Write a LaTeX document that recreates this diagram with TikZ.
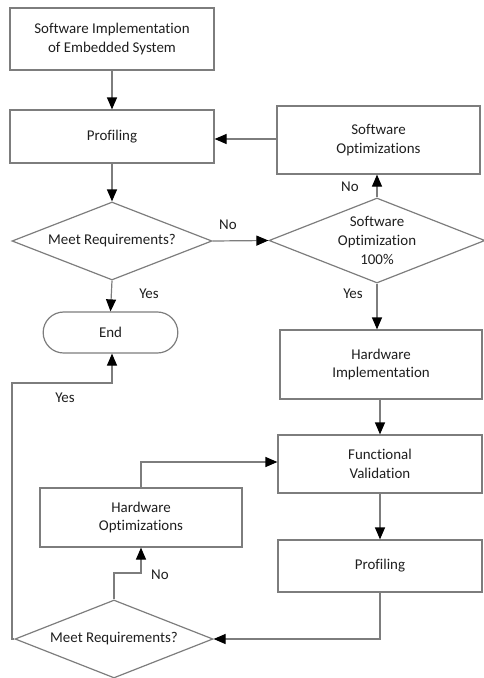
\documentclass[tikz,border=0pt]{standalone}
\usepackage{fontspec}
\setmainfont[Ligatures={NoCommon}]{Carlito}
\usetikzlibrary{arrows.meta,shapes.geometric,shapes.misc}
\definecolor{ln}{RGB}{125,125,125}
\definecolor{tx}{RGB}{30,30,30}
\begin{document}
\begin{tikzpicture}[x=0.75pt,y=-0.75pt,
  font=\fontsize{11.2}{14.2}\selectfont, text=tx,
  boxx/.style={draw=ln,line width=0.9pt,rectangle,align=center,inner sep=0pt},
  dia/.style={draw=ln,line width=0.9pt,diamond,aspect=2.5,align=center,inner sep=0pt},
  term/.style={draw=ln,line width=0.9pt,rounded rectangle,align=center,inner sep=0pt},
  arr/.style={draw=ln,line width=0.9pt,-{Triangle[length=9pt,width=7.5pt,color=black]}},
  lab/.style={inner sep=0pt}]
\useasboundingbox (0,0) rectangle (483,678);
\node[boxx,minimum width=153pt,minimum height=46.5pt] (b1) at (112,39) {Software Implementation\\of Embedded System};
\node[boxx,minimum width=153pt,minimum height=39.75pt] (p1) at (112,136.5) {Profiling};
\node[boxx,minimum width=152.25pt,minimum height=51pt] (so) at (378.5,140) {Software\\Optimizations};
\node[dia,minimum width=150pt,minimum height=58.5pt] (d1) at (112,241) {Meet Requirements?};
\node[dia,minimum width=162pt,minimum height=63.75pt] (d2) at (377,240.5) {Software\\Optimization\\100\%};
\node[term,minimum width=101pt,minimum height=30.75pt] (end) at (110.5,332.5) {End};
\node[boxx,minimum width=151.5pt,minimum height=51.75pt] (hi) at (381,364.5) {Hardware\\Implementation};
\node[boxx,minimum width=153pt,minimum height=43.5pt] (fv) at (380,464) {Functional\\Validation};
\node[boxx,minimum width=153pt,minimum height=39pt] (p2) at (380,566) {Profiling};
\node[boxx,minimum width=151.5pt,minimum height=44.25pt] (ho) at (141,517.5) {Hardware\\Optimizations};
\node[dia,minimum width=148.5pt,minimum height=58.5pt] (d3) at (114,639) {Meet Requirements?};

\coordinate (c1) at (12,639);
\coordinate (c2) at (12,383);
\coordinate (c3) at (112,383);
\coordinate (c4) at (114,573);
\coordinate (c5) at (141,573);
\coordinate (c6) at (141,462);

\path[arr] (b1.south) -- (p1.north);
\path[arr] (so.west |- 0,139) -- (p1.east |- 0,139);
\path[arr] (p1.south) -- (d1.north);
\path[arr] (d1.east) -- (d2.west);
\path[arr] (d2.north) -- (d2.north |- so.south);
\path[arr] (d1.south) -- (end.north);
\path[arr] (d2.south) -- (d2.south |- hi.north);
\path[arr] (hi.south -| fv.north) -- (fv.north);
\path[arr] (fv.south) -- (p2.north);
\path[arr] (p2.south) |- (d3.east);
\path[arr] (d3.west) -- (c1) -- (c2) -- (c3) -- (end.south -| c3);
\path[arr] (d3.north) -- (c4) -- (c5) -- (ho.south -| c5);
\path[arr] (ho.north -| c6) -- (c6) -- (fv.west |- c6);

\node[lab] (l1) at (228,225) {No};
\node[lab] (l2) at (350,187) {No};
\node[lab] (l3) at (353,294) {Yes};
\node[lab] (l4) at (149,294) {Yes};
\node[lab] (l5) at (65,398) {Yes};
\node[lab] (l6) at (160,575) {No};
\end{tikzpicture}
\end{document}
